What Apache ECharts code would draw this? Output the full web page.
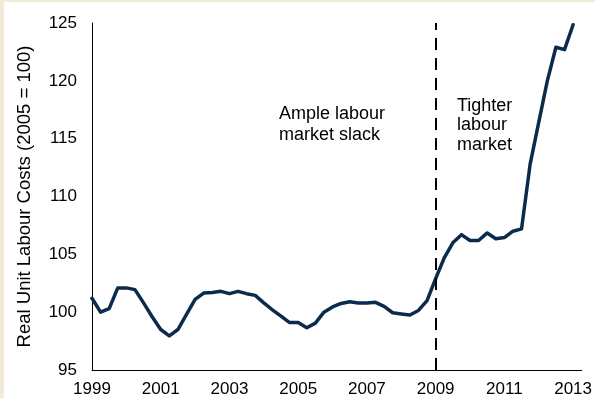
<!DOCTYPE html>
<html>
<head>
<meta charset="utf-8">
<script src="https://cdn.jsdelivr.net/npm/echarts@6/dist/echarts.min.js"></script>
<style>
  html, body { margin: 0; padding: 0; background: #ffffff; }
  #chart { width: 595px; height: 398px; }
</style>
</head>
<body>
<div id="chart"></div>
<script>
// Real unit labour costs, quarterly, 1999 Q1 – 2013 Q1 (index, 2005 = 100)
const startYear = 1999;
const labourCosts = [
  101.2, 100.0, 100.3, 102.1, 102.1, 101.95, 100.8, 99.6,
  98.5, 97.95, 98.5, 99.8, 101.1, 101.65, 101.7, 101.8,
  101.6, 101.8, 101.6, 101.45, 100.8, 100.2, 99.65, 99.1,
  99.1, 98.65, 99.05, 100.0, 100.45, 100.75, 100.9, 100.8,
  100.8, 100.85, 100.5, 99.95, 99.85, 99.75, 100.15, 101.0,
  102.9, 104.7, 106.0, 106.7, 106.2, 106.2, 106.85, 106.35,
  106.45, 107.0, 107.2, 112.8, 116.4, 120.0, 122.9, 122.7,
  124.85
];
const yTicks = { min: 95, max: 125, step: 5 };
const xTicks = { min: 1999, max: 2013.25, step: 2 };
const regimeBreak = 2009;
const leftNote = 'Ample labour\nmarket slack';
const rightNote = 'Tighter\nlabour\nmarket';
const yAxisTitle = 'Real Unit Labour Costs (2005 = 100)';

const points = labourCosts.map((v, i) => [startYear + i / 4, v]);

const chart = echarts.init(document.getElementById('chart'), null, { renderer: 'canvas' });
const font = '"Liberation Sans", Arial, sans-serif';
const beige = '#EFEBD8';

chart.setOption({
  backgroundColor: '#ffffff',
  animation: false,
  grid: { left: 92, top: 23, right: 12, bottom: 28, containLabel: false },
  graphic: [
    { type: 'rect', left: 0, top: 0, shape: { width: 595, height: 2 }, style: { fill: beige }, silent: true },
    { type: 'rect', left: 0, top: 0, shape: { width: 4, height: 398 }, style: { fill: beige }, silent: true },
    {
      type: 'text', left: 279, top: 104,
      style: { text: leftNote, font: '18px ' + font, fill: '#000', align: 'center', lineHeight: 21 }
    },
    {
      type: 'text', left: 457, top: 96,
      style: { text: rightNote, font: '18px ' + font, fill: '#000', align: 'center', lineHeight: 19.5 }
    }
  ],
  xAxis: {
    type: 'value',
    min: xTicks.min, max: xTicks.max, interval: xTicks.step,
    axisLine: { show: true, lineStyle: { color: '#000', width: 1 } },
    axisTick: { show: false },
    splitLine: { show: false },
    axisLabel: {
      color: '#000', fontSize: 17, fontFamily: font, margin: 11,
      showMaxLabel: false,
      formatter: v => (Number.isInteger(v) ? String(v) : '')
    }
  },
  yAxis: {
    type: 'value',
    min: yTicks.min, max: yTicks.max, interval: yTicks.step,
    name: yAxisTitle,
    nameLocation: 'middle',
    nameGap: 58,
    nameTextStyle: { color: '#000', fontSize: 18.5, fontFamily: font },
    axisLine: { show: true, lineStyle: { color: '#000', width: 1 } },
    axisTick: { show: false },
    splitLine: { show: false },
    axisLabel: { color: '#000', fontSize: 17, fontFamily: font, margin: 15 }
  },
  series: [
    {
      type: 'line',
      data: points,
      symbol: 'none',
      lineStyle: { color: '#0B2B4C', width: 3.5, join: 'round', cap: 'round' },
      markLine: {
        silent: true,
        symbol: 'none',
        label: { show: false },
        lineStyle: { color: '#000', width: 2, type: [12, 8] },
        data: [[
          { coord: [regimeBreak, yTicks.min] },
          { coord: [regimeBreak, yTicks.max] }
        ]]
      }
    }
  ]
});
</script>
</body>
</html>
